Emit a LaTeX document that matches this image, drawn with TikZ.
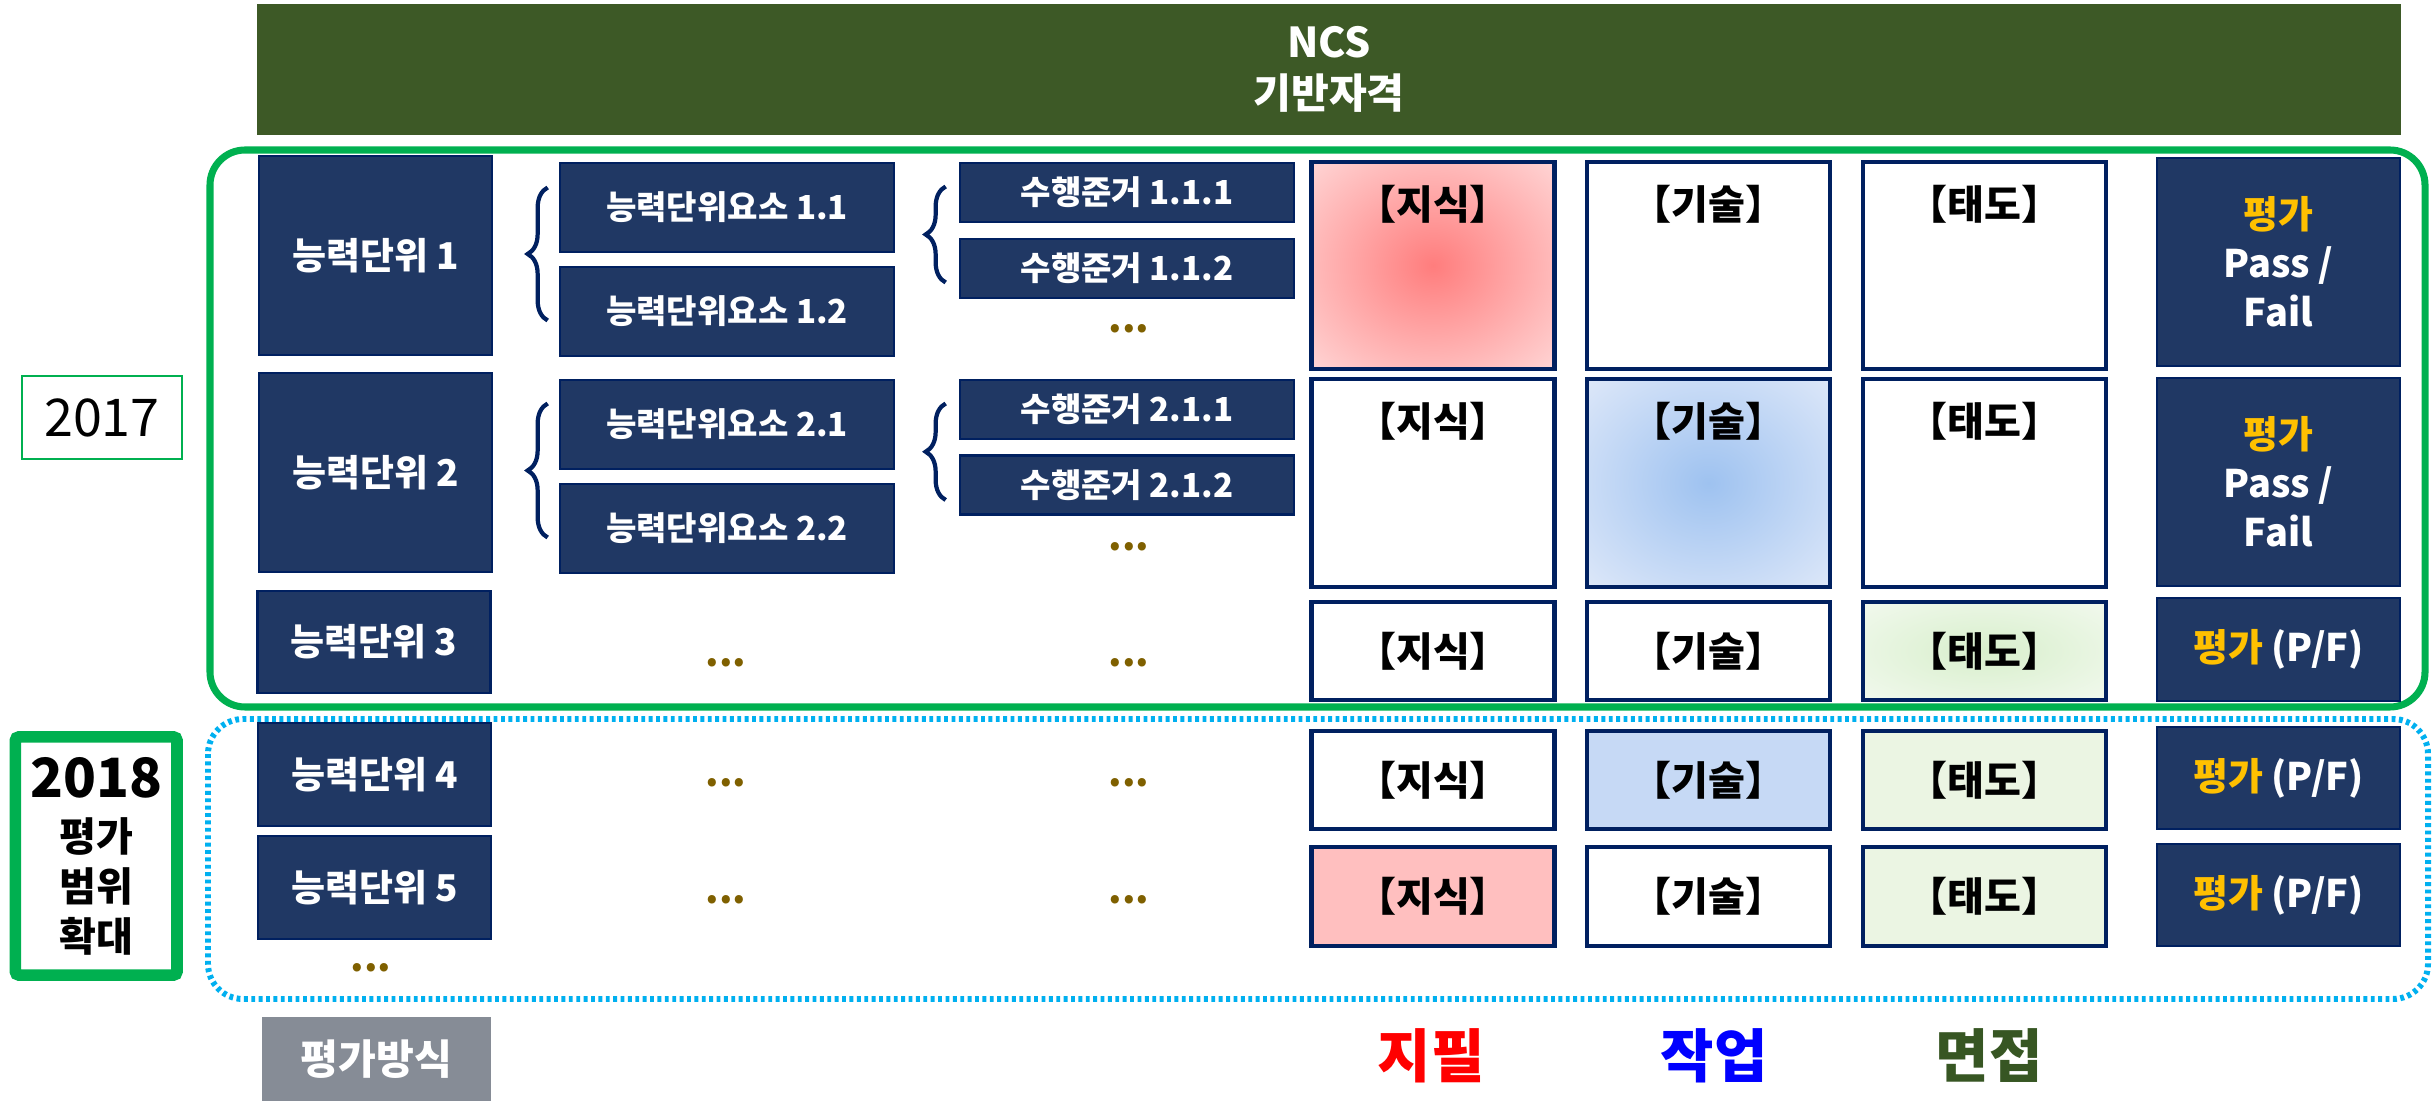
\documentclass[tikz,border=0pt]{standalone}
\usepackage{fontspec}
\setmainfont{Noto Sans CJK KR}
\usepackage{tikz}
\usetikzlibrary{calc}
\usetikzlibrary{decorations.pathreplacing}

\definecolor{navy}{RGB}{32,56,100}
\definecolor{navyline}{RGB}{0,32,96}
\definecolor{olivebar}{RGB}{61,89,38}
\definecolor{framegreen}{RGB}{0,176,80}
\definecolor{framecyan}{RGB}{0,176,240}
\definecolor{gold}{RGB}{255,192,0}
\definecolor{dotbrown}{RGB}{127,96,0}
\definecolor{waygray}{RGB}{134,140,150}
\definecolor{talkgreen}{RGB}{55,86,35}
\definecolor{redin}{RGB}{255,125,125}
\definecolor{redout}{RGB}{255,214,214}
\definecolor{bluein}{RGB}{158,194,240}
\definecolor{blueout}{RGB}{222,232,249}
\definecolor{greenin}{RGB}{216,239,204}
\definecolor{greenout}{RGB}{242,249,238}
\definecolor{blueflat}{RGB}{198,217,245}
\definecolor{greenflat}{RGB}{235,245,227}
\definecolor{redflat}{RGB}{255,191,191}
\pgfdeclareradialshading{redglow}{\pgfpoint{0bp}{0bp}}{color(0bp)=(redin); color(36bp)=(redout); color(50bp)=(redout)}
\pgfdeclareradialshading{blueglow}{\pgfpoint{0bp}{0bp}}{color(0bp)=(bluein); color(36bp)=(blueout); color(50bp)=(blueout)}
\pgfdeclareradialshading{greenglow}{\pgfpoint{0bp}{0bp}}{color(0bp)=(greenin); color(36bp)=(greenout); color(50bp)=(greenout)}
\newcommand\fsz[2]{\fontsize{#1}{#2}\selectfont}

\begin{document}
\begin{tikzpicture}[x=0.01cm,y=-0.01cm,
    box/.style={draw=navyline,fill=navy,line width=0.7pt,text=white,inner sep=0pt,align=center},
    unit/.style={box,minimum width=2.33cm,font=\fsz{10.5pt}{12pt}\bfseries},
    elem/.style={box,minimum width=3.34cm,minimum height=0.89cm,font=\fsz{9.4pt}{11pt}\bfseries},
    crit/.style={box,minimum width=3.34cm,minimum height=0.59cm,font=\fsz{9.4pt}{11pt}\bfseries},
    cell/.style={draw=navyline,fill=white,line width=1.3pt,minimum width=2.43cm,inner sep=0pt,font=\fsz{11.4pt}{13pt}\bfseries},
    head/.style={inner sep=0pt,font=\fsz{11.4pt}{13pt}\bfseries},
    grade/.style={box,minimum width=2.43cm,font=\fsz{10.8pt}{13.9pt}\bfseries},
    more/.style={text=dotbrown,anchor=base,inner sep=0pt,font=\fsz{11pt}{12pt}\bfseries},
    brc/.style={draw=navyline,line width=1.2pt,decorate,decoration={brace,amplitude=0.2cm}},
    exam/.style={inner sep=0pt,font=\fsz{16.5pt}{18pt}\bfseries}]
  \useasboundingbox (0,0) rectangle (2433,1101);
  % NCS banner
  \node[fill=olivebar,text=white,minimum width=21.42cm,minimum height=1.31cm,align=center,font=\fsz{11.7pt}{14.5pt}\bfseries] (ncs) at (1329,69.5) {NCS\\기반자격};
  % 2017 and 2018 frames
  \draw[framegreen,line width=2pt,rounded corners=0.35cm] (210,150) rectangle (2425,707);
  \draw[framecyan,line width=1.7pt,dash pattern=on 1.1pt off 1pt,rounded corners=0.35cm] (208,719) rectangle (2428,999);
  \node[draw=framegreen,line width=0.6pt,minimum width=1.6cm,minimum height=0.83cm,font=\fsz{14.8pt}{16pt}] (y17) at (102,417.5) {2017};
  \node[draw=framegreen,line width=3.3pt,rounded corners=1pt,minimum width=1.615cm,minimum height=2.38cm,align=center,font=\fsz{11.4pt}{14.2pt}\bfseries] (y18) at (96.2,856) {{\fsz{15.4pt}{16pt}2018}\\[1.2pt]평가\\범위\\확대};
  % competency units
  \node[unit,minimum height=1.99cm] (u1) at (375.5,255.5) {능력단위 1};
  \node[unit,minimum height=1.99cm] (u2) at (375.5,472.5) {능력단위 2};
  \node[unit,minimum height=1.02cm] (u3) at (374,642) {능력단위 3};
  \node[unit,minimum height=1.03cm] (u4) at (374.5,774.5) {능력단위 4};
  \node[unit,minimum height=1.03cm] (u5) at (374.5,887.5) {능력단위 5};
  \node[more] (u6) at (371,972) {...};
  % unit elements
  \node[elem] (e11) at (727,207.5) {능력단위요소 1.1};
  \node[elem] (e12) at (727,311.5) {능력단위요소 1.2};
  \node[elem] (e21) at (727,424.5) {능력단위요소 2.1};
  \node[elem] (e22) at (727,528.5) {능력단위요소 2.2};
  \node[more] (e3) at (726,666.5) {...};
  \node[more] (e4) at (726,787) {...};
  \node[more] (e5) at (726,903.5) {...};
  % performance criteria
  \node[crit] (c111) at (1127,192.5) {수행준거 1.1.1};
  \node[crit] (c112) at (1127,268.5) {수행준거 1.1.2};
  \node[more] (c1) at (1129,332.5) {...};
  \node[crit] (c211) at (1127,409.5) {수행준거 2.1.1};
  \node[crit] (c212) at (1127,485) {수행준거 2.1.2};
  \node[more] (c2) at (1129,550.5) {...};
  \node[more] (c3) at (1129,666.5) {...};
  \node[more] (c4) at (1129,787) {...};
  \node[more] (c5) at (1129,903.5) {...};
  % braces
  \draw[brc] ($(e12.west)+(-11,9)$) -- ($(e11.west)+(-11,-20)$);
  \draw[brc] ($(e22.west)+(-11,9)$) -- ($(e21.west)+(-11,-21)$);
  \draw[brc] ($(c112.west)+(-13,14)$) -- ($(c111.west)+(-13,-6)$);
  \draw[brc] ($(c212.west)+(-13,15)$) -- ($(c211.west)+(-13,-6)$);
  % row 1
  \node[cell,minimum height=2.07cm,shade,shading=redglow] (k1) at (1433,265.5) {};
  \node[head] (k1t) at ($(k1.north)+(0,45)$) {【지식】};
  \node[cell,minimum height=2.07cm] (s1) at (1708.5,265.5) {};
  \node[head] (s1t) at ($(s1.north)+(0,45)$) {【기술】};
  \node[cell,minimum height=2.07cm] (a1) at (1984.5,265.5) {};
  \node[head] (a1t) at ($(a1.north)+(0,45)$) {【태도】};
  \node[grade,minimum height=2.08cm] (p1) at (2278.5,262) {\textcolor{gold}{평가}\\Pass /\\Fail};
  % row 2
  \node[cell,minimum height=2.08cm] (k2) at (1433,483) {};
  \node[head] (k2t) at ($(k2.north)+(0,45)$) {【지식】};
  \node[cell,minimum height=2.08cm,shade,shading=blueglow] (s2) at (1708.5,483) {};
  \node[head] (s2t) at ($(s2.north)+(0,45)$) {【기술】};
  \node[cell,minimum height=2.08cm] (a2) at (1984.5,483) {};
  \node[head] (a2t) at ($(a2.north)+(0,45)$) {【태도】};
  \node[grade,minimum height=2.08cm] (p2) at (2278.5,482) {\textcolor{gold}{평가}\\Pass /\\Fail};
  % row 3
  \node[cell,minimum height=0.98cm] (k3) at (1433,651) {【지식】};
  \node[cell,minimum height=0.98cm] (s3) at (1708.5,651) {【기술】};
  \node[cell,minimum height=0.98cm,shade,shading=greenglow] (a3) at (1984.5,651) {【태도】};
  \node[grade,minimum height=1.03cm] (p3) at (2278.5,649.5) {\textcolor{gold}{평가} (P/F)};
  % row 4
  \node[cell,minimum height=0.98cm] (k4) at (1433,780) {【지식】};
  \node[cell,minimum height=0.98cm,fill=blueflat] (s4) at (1708.5,780) {【기술】};
  \node[cell,minimum height=0.98cm,fill=greenflat] (a4) at (1984.5,780) {【태도】};
  \node[grade,minimum height=1.02cm] (p4) at (2278.5,778) {\textcolor{gold}{평가} (P/F)};
  % row 5
  \node[cell,minimum height=0.99cm,fill=redflat] (k5) at (1433,896.5) {【지식】};
  \node[cell,minimum height=0.99cm] (s5) at (1708.5,896.5) {【기술】};
  \node[cell,minimum height=0.99cm,fill=greenflat] (a5) at (1984.5,896.5) {【태도】};
  \node[grade,minimum height=1.02cm] (p5) at (2278.5,895) {\textcolor{gold}{평가} (P/F)};
  % evaluation methods
  \node[fill=waygray,text=white,minimum width=2.29cm,minimum height=0.84cm,font=\fsz{11.7pt}{13pt}\bfseries] (way) at (376.5,1059) {평가방식};
  \node[exam,text=red] (wr) at (1431,1056) {지필};
  \node[exam,text=blue] (pr) at (1714,1056) {작업};
  \node[exam,text=talkgreen] (iv) at (1989,1056) {면접};
\end{tikzpicture}
\end{document}
